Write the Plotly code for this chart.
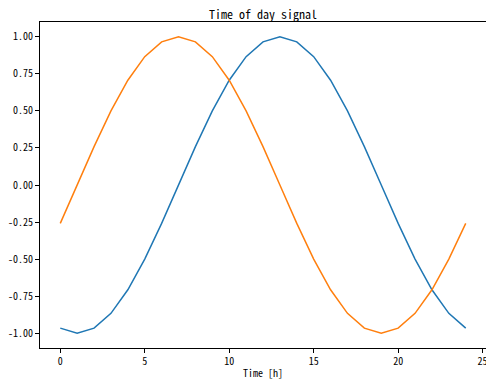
import plotly.graph_objects as go

hours = list(range(25))
day_sin = [-0.966, -1.0, -0.966, -0.866, -0.707, -0.5, -0.259, 0.0, 0.259, 0.5, 0.707, 0.866,
           0.966, 1.0, 0.966, 0.866, 0.707, 0.5, 0.259, 0.0, -0.259, -0.5, -0.707, -0.866, -0.966]
day_cos = [-0.259, 0.0, 0.259, 0.5, 0.707, 0.866, 0.966, 1.0, 0.966, 0.866, 0.707, 0.5,
           0.259, 0.0, -0.259, -0.5, -0.707, -0.866, -0.966, -1.0, -0.966, -0.866, -0.707, -0.5, -0.259]
x_ticks = [0, 5, 10, 15, 20, 25]
y_ticks = [-1.0, -0.75, -0.5, -0.25, 0.0, 0.25, 0.5, 0.75, 1.0]

FONT = "Noto Sans Mono CJK SC, DejaVu Sans Mono, monospace"

fig = go.Figure()
fig.add_trace(go.Scatter(x=hours, y=day_sin, mode="lines", line=dict(color="#1f77b4", width=1.5)))
fig.add_trace(go.Scatter(x=hours, y=day_cos, mode="lines", line=dict(color="#ff7f0e", width=1.5)))

axis_common = dict(showline=True, mirror=True, linecolor="black", linewidth=1,
                   ticks="outside", ticklen=4, tickcolor="black", showgrid=False,
                   zeroline=False, automargin=False,
                   tickfont=dict(family=FONT, size=10, color="black"))
fig.update_layout(
    width=486, height=376,
    margin=dict(l=32, r=8, t=14, b=36),
    paper_bgcolor="white", plot_bgcolor="white",
    showlegend=False,
    xaxis=dict(range=[-1.2, 25.2], tickvals=x_ticks, ticktext=[str(v) for v in x_ticks],
               **axis_common),
    yaxis=dict(range=[-1.1, 1.1], tickvals=y_ticks, ticktext=[f"{v:.2f}" for v in y_ticks],
               **axis_common),
    annotations=[
        dict(text="Time of day signal", xref="paper", yref="paper", x=0.5, y=1,
             xanchor="center", yanchor="middle", yshift=9, showarrow=False,
             font=dict(family=FONT, size=12, color="black")),
        dict(text="Time [h]", xref="paper", yref="paper", x=0.5, y=0,
             xanchor="center", yanchor="top", yshift=-15, showarrow=False,
             font=dict(family=FONT, size=10, color="black")),
    ],
)
fig.write_html("out.html")
